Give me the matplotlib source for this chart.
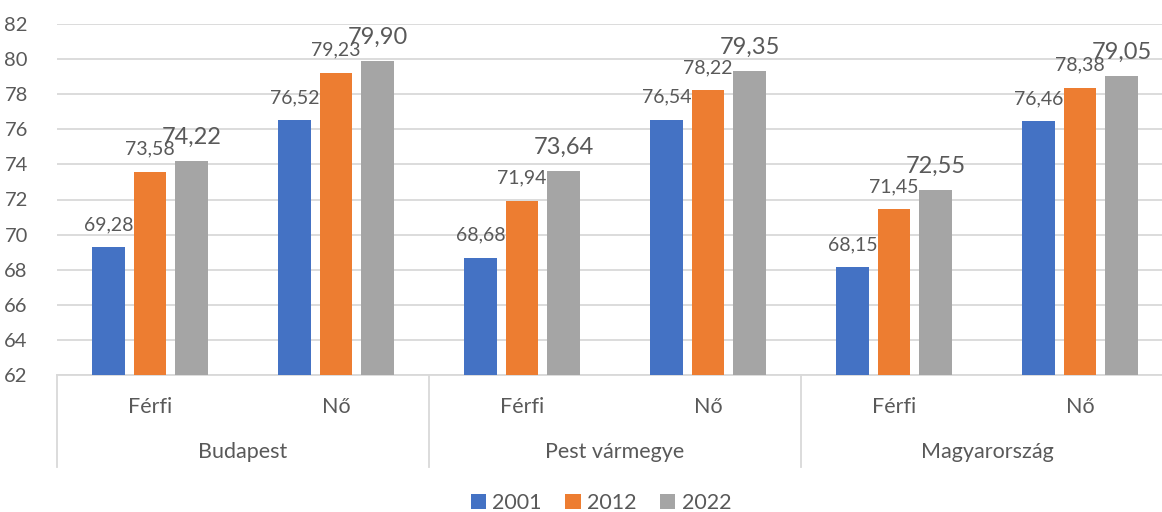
import matplotlib
matplotlib.use("Agg")
import matplotlib.pyplot as plt
from matplotlib.lines import Line2D
import numpy as np

groups = ["Budapest", "Pest vármegye", "Magyarország"]
subcats = ["Férfi", "Nő"]
years = ["2001", "2012", "2022"]
v2001 = [69.28, 76.52, 68.68, 76.54, 68.15, 76.46]
v2012 = [73.58, 79.23, 71.94, 78.22, 71.45, 78.38]
v2022 = [74.22, 79.90, 73.64, 79.35, 72.55, 79.05]
yticks = [62, 64, 66, 68, 70, 72, 74, 76, 78, 80, 82]

colors = ["#4472C4", "#ED7D31", "#A5A5A5"]
txt = "#595959"
grid = "#D9D9D9"
plt.rcParams['font.family'] = ['Lato', 'DejaVu Sans']

W, H = 1162, 512
fig = plt.figure(figsize=(W / 100, H / 100), dpi=100)
px_left, px_right, px_top, px_bot = 57, 1173, 24, 375
ax = fig.add_axes([px_left / W, 1 - px_bot / H, (px_right - px_left) / W, (px_bot - px_top) / H])

fs = 15.5
x = np.arange(len(v2001))
step = 0.2231
width = 0.1774
series = [v2001, v2012, v2022]
lab_sizes = [14, 14, 17]
for i, (vals, c) in enumerate(zip(series, colors)):
    pos = x + (i - 1) * step
    ax.bar(pos, np.array(vals) - 62, width, bottom=62, color=c, label=years[i], zorder=3)
    for p, v in zip(pos, vals):
        ax.annotate(f"{v:.2f}".replace(".", ","), (p, v), xytext=(0, 17), textcoords="offset pixels",
                    ha="center", va="baseline", fontsize=lab_sizes[i], color=txt, zorder=4)

ax.set_xlim(-0.5, len(v2001) - 0.5)
ax.set_ylim(62, 82)
ax.set_yticks(yticks)
ax.set_yticklabels([str(t) for t in yticks], fontsize=14.5, color=txt)
ax.tick_params(axis="y", length=0, pad=21)
ax.set_xticks([])
ax.yaxis.grid(True, color=grid, linewidth=1.3, zorder=0)
for s in ["top", "right", "left"]:
    ax.spines[s].set_visible(False)
ax.spines["bottom"].set_color(grid)
ax.spines["bottom"].set_linewidth(1.3)

tr = ax.get_xaxis_transform()
ph = px_bot - px_top
y_sub = -(407 - px_bot) / ph
y_grp = -(452 - px_bot) / ph
y_sep = -(467 - px_bot) / ph
for i in range(len(v2001)):
    ax.text(i, y_sub, subcats[i % 2], transform=tr, ha="center", va="center", fontsize=fs, color=txt)
for g, name in enumerate(groups):
    ax.text(2 * g + 0.5, y_grp, name, transform=tr, ha="center", va="center", fontsize=fs, color=txt)
for b in [-0.5, 1.5, 3.5, 5.5]:
    ax.add_line(Line2D([b, b], [0, y_sep], transform=tr, color=grid, linewidth=1.3, clip_on=False))

handles, labels = ax.get_legend_handles_labels()
fig.legend(handles, labels, loc="center", bbox_to_anchor=(601 / W, 1 - 503 / H), ncol=3,
           frameon=False, fontsize=fs, handlelength=0.7, handleheight=0.7,
           handletextpad=0.3, columnspacing=1.1, labelcolor=txt)

fig.savefig("out.png", dpi=100)
